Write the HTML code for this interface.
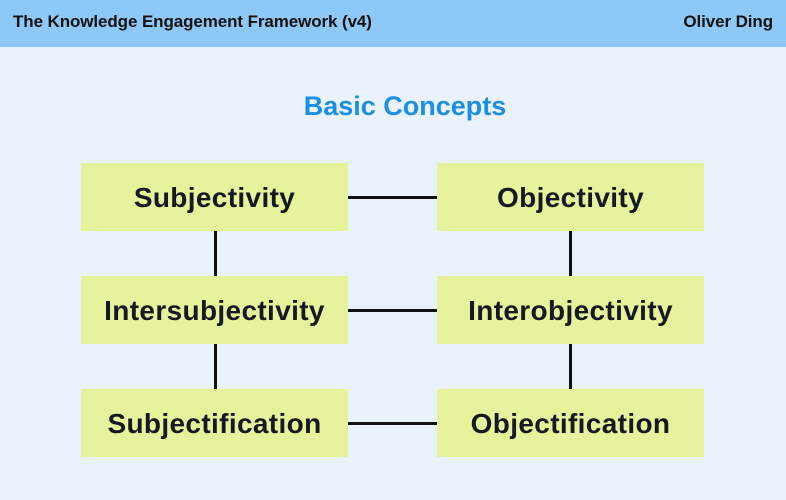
<!DOCTYPE html>
<html><head><meta charset="utf-8"><style>
*{margin:0;padding:0;box-sizing:border-box}
body{width:786px;height:500px;background:#eaf3fc;font-family:"Liberation Sans",sans-serif;position:relative;overflow:hidden}
.hdr{position:absolute;left:0;top:0;width:786px;height:47px;background:#8ec8f6}
.ht{position:absolute;top:12px;font-size:17px;font-weight:bold;color:#111;letter-spacing:-0.1px}
.title{position:absolute;left:0;width:810px;top:91px;text-align:center;font-size:27px;font-weight:bold;color:#1b8fe6}
.box{position:absolute;width:267px;height:68px;background:#e6f29c;display:flex;align-items:center;justify-content:center;font-size:28px;font-weight:bold;color:#151a22;letter-spacing:0.35px;padding-top:2px}
.h{position:absolute;height:3px;background:#111;left:348px;width:89px}
.v{position:absolute;width:3px;background:#111;height:45px}
</style></head><body>
<div class="hdr"></div>
<div class="ht" style="left:13px">The Knowledge Engagement Framework (v4)</div>
<div class="ht" style="right:13px">Oliver Ding</div>
<div class="title">Basic Concepts</div>
<div class="box" style="left:81px;top:163px">Subjectivity</div>
<div class="box" style="left:437px;top:163px">Objectivity</div>
<div class="box" style="left:81px;top:276px">Intersubjectivity</div>
<div class="box" style="left:437px;top:276px">Interobjectivity</div>
<div class="box" style="left:81px;top:389px">Subjectification</div>
<div class="box" style="left:437px;top:389px">Objectification</div>
<div class="h" style="top:196px"></div>
<div class="h" style="top:309px"></div>
<div class="h" style="top:422px"></div>
<div class="v" style="left:214px;top:231px"></div>
<div class="v" style="left:214px;top:344px"></div>
<div class="v" style="left:569px;top:231px"></div>
<div class="v" style="left:569px;top:344px"></div>
</body></html>
